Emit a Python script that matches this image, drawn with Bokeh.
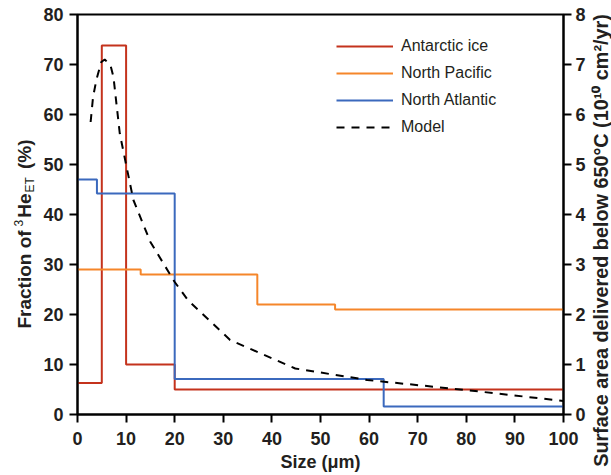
from math import pi

from bokeh.core.properties import value
from bokeh.embed import file_html
from bokeh.layouts import row
from bokeh.models import FixedTicker, Legend, LegendItem, LinearAxis, Range1d
from bokeh.plotting import figure
from bokeh.resources import INLINE

# Particle size bins (µm) and the fraction of 3He_ET (%) in each bin
antarctic_edges = [0, 5, 10, 20, 100]
antarctic_frac = [6.3, 73.8, 10.0, 5.0]

pacific_edges = [0, 13, 37, 53, 100]
pacific_frac = [29.0, 28.0, 22.0, 21.0]

atlantic_edges = [0, 4, 20, 63, 100]
atlantic_frac = [47.0, 44.2, 7.1, 1.6]

# Modelled surface area delivered below 650 °C (10^10 cm^2/yr)
model_size = [2.7, 3.2, 3.9, 4.9, 5.6, 6.8, 7.4, 8.7, 10.1, 11.5, 15, 20, 22.7,
              31.4, 44.8, 59.6, 79.9, 100]
model_area = [5.85, 6.35, 6.7, 7.05, 7.1, 6.98, 6.75, 5.62, 4.95, 4.29, 3.45,
              2.65, 2.29, 1.49, 0.92, 0.69, 0.49, 0.27]

x_ticks = [0, 10, 20, 30, 40, 50, 60, 70, 80, 90, 100]
left_ticks = [0, 10, 20, 30, 40, 50, 60, 70, 80]
right_ticks = [0, 1, 2, 3, 4, 5, 6, 7, 8]

RED = "#c4321c"
ORANGE = "#f5862a"
BLUE = "#3b69bd"
INK = "#231f20"
FONT = "Liberation Sans"

HEIGHT = 475
LEFT_W = 40
RIGHT_W = 21

p = figure(
    frame_width=486, frame_height=400,
    min_border_left=36, min_border_right=28, min_border_top=14, min_border_bottom=61,
    x_range=Range1d(0, 100), y_range=Range1d(0, 80),
    output_backend="svg", toolbar_location=None,
)
p.extra_y_ranges = {"area": Range1d(0, 8)}
p.xgrid.visible = False
p.ygrid.visible = False
p.outline_line_color = "black"
p.outline_line_width = 2
p.background_fill_color = "white"
p.border_fill_color = "white"

right_axis = LinearAxis(y_range_name="area")
p.add_layout(right_axis, "right")

p.xaxis.ticker = FixedTicker(ticks=x_ticks)
p.yaxis[0].ticker = FixedTicker(ticks=left_ticks)
right_axis.ticker = FixedTicker(ticks=right_ticks)

for ax in [p.xaxis[0], p.yaxis[0], right_axis]:
    ax.axis_line_width = 2
    ax.axis_line_color = "black"
    ax.major_tick_line_width = 2
    ax.major_tick_line_color = "black"
    ax.major_tick_in = 0
    ax.major_tick_out = 8
    ax.minor_tick_out = 0
    ax.minor_tick_in = 0
    ax.major_label_text_font = FONT
    ax.major_label_text_font_style = "bold"
    ax.major_label_text_font_size = "18px"
    ax.major_label_text_color = INK
p.xaxis.major_label_standoff = 9
p.yaxis[0].major_label_standoff = 6
right_axis.major_label_standoff = 4

p.xaxis.axis_label = "Size (μm)"
p.xaxis.axis_label_text_font = FONT
p.xaxis.axis_label_text_font_style = "bold"
p.xaxis.axis_label_text_font_size = "18px"
p.xaxis.axis_label_text_color = INK
p.xaxis.axis_label_standoff = 4


def step_xy(edges, vals):
    return edges, list(vals) + [vals[-1]]


ax_x, ax_y = step_xy(antarctic_edges, antarctic_frac)
r_ant = p.step(ax_x, ax_y, mode="after", line_color=RED, line_width=2)
px_, py_ = step_xy(pacific_edges, pacific_frac)
r_pac = p.step(px_, py_, mode="after", line_color=ORANGE, line_width=2)
tx_, ty_ = step_xy(atlantic_edges, atlantic_frac)
r_atl = p.step(tx_, ty_, mode="after", line_color=BLUE, line_width=2)
r_mod = p.line(model_size, model_area, y_range_name="area", line_color="black",
               line_width=2, line_dash="8 7")

legend = Legend(
    items=[
        LegendItem(label="Antarctic ice", renderers=[r_ant]),
        LegendItem(label="North Pacific", renderers=[r_pac]),
        LegendItem(label="North Atlantic", renderers=[r_atl]),
        LegendItem(label="Model", renderers=[r_mod]),
    ],
    location=(259, 277),
    padding=0, margin=0, spacing=7,
    glyph_width=57, glyph_height=20, label_height=20, label_standoff=8,
    label_text_font=FONT, label_text_font_size="16px", label_text_color=INK,
    border_line_alpha=0, background_fill_alpha=0,
)
p.add_layout(legend)


def title_strip(width):
    """A narrow blank panel, in pixel units, that carries a rotated axis title."""
    s = figure(frame_width=width, frame_height=HEIGHT, min_border=0, title=None,
               x_range=Range1d(0, width), y_range=Range1d(0, HEIGHT),
               x_axis_location=None, y_axis_location=None,
               output_backend="svg", toolbar_location=None)
    s.xgrid.visible = False
    s.ygrid.visible = False
    s.outline_line_color = None
    s.background_fill_color = "white"
    s.border_fill_color = "white"
    return s


# Left title: the isotope mass is a small superscript, "ET" a small subscript.
# Each piece: text, size, style, baseline shift (px, + = below the baseline),
# distance of its centre from the start of the title (px).
left = title_strip(LEFT_W)
pieces = [
    ("Fraction of", 19, "bold", 0, 49.0),
    ("3", 12, "normal", -8, 105.4),
    ("He", 19, "bold", 0, 122.9),
    ("ET", 12, "normal", 3, 143.7),
    ("(%)", 19, "bold", 0, 174.2),
]
baseline_x = 30.5
start_y = HEIGHT - 314  # bottom end of the title, in strip units
for txt, size, style, shift, centre in pieces:
    left.text(x=[baseline_x + shift - 0.35 * size], y=[start_y + centre], text=[txt],
              angle=pi / 2, text_align="center", text_baseline="middle",
              text_font=value(FONT), text_font_size=f"{size}px",
              text_font_style=style, text_color=INK)

# Right title
right = title_strip(RIGHT_W)
right_size = 19.8
right.text(x=[16.3 - 0.35 * right_size], y=[HEIGHT - 226],
           text=["Surface area delivered below 650°C (10¹⁰ cm²/yr)"],
           angle=pi / 2, text_align="center", text_baseline="middle",
           text_font=value(FONT), text_font_size=f"{right_size}px",
           text_font_style="bold", text_color=INK)

layout = row(left, p, right, spacing=0)
open("out.html", "w").write(file_html(layout, INLINE))
